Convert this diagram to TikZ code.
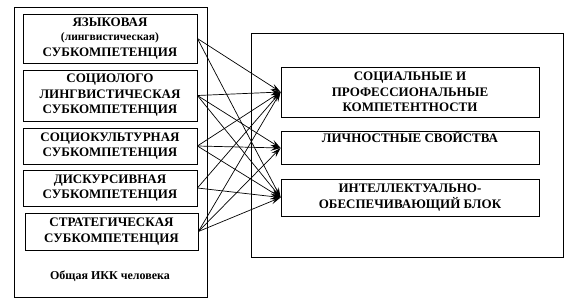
\documentclass[tikz,border=0pt]{standalone}
\usepackage{fontspec}
\setmainfont{Liberation Serif}
\usepackage{tikz}
\usetikzlibrary{arrows.meta}

\begin{document}
\begin{tikzpicture}[x=1pt, y=-1pt,
  every node/.style={font=\bfseries\fontsize{13}{15.5}\selectfont, align=center, inner sep=0pt},
  subbox/.style={draw, line width=0.8pt, minimum width=174pt},
  resbox/.style={draw, line width=0.8pt, minimum width=258pt},
  link/.style={line width=0.7pt, -{Stealth[length=10pt, width=6pt, inset=4pt]}}]
  \useasboundingbox (0,0) rectangle (575,302);

  % outer frames
  \draw[line width=0.8pt] (14,7) rectangle (207,297);
  \draw[line width=0.8pt] (251,33) rectangle (563,257);

  % left column: subcompetences
  \node[subbox, minimum height=49pt] (lang) at (110,38.5)
    {ЯЗЫКОВАЯ\\[-1pt]{\fontsize{11.5}{13}\selectfont (лингвистическая)}\\СУБКОМПЕТЕНЦИЯ};
  \node[subbox, minimum height=51pt] (soclin) at (110,95.5)
    {СОЦИОЛОГО\\ЛИНГВИСТИЧЕСКАЯ\\СУБКОМПЕТЕНЦИЯ};
  \node[subbox, minimum height=36pt] (soccult) at (110,146)
    {СОЦИОКУЛЬТУРНАЯ\\СУБКОМПЕТЕНЦИЯ};
  \node[subbox, minimum height=36pt] (disc) at (110,188)
    {ДИСКУРСИВНАЯ\\СУБКОМПЕТЕНЦИЯ};
  \node[subbox, minimum height=37pt, minimum width=173pt] (strat) at (111.5,231.5)
    {СТРАТЕГИЧЕСКАЯ\\СУБКОМПЕТЕНЦИЯ};
  \node[font=\bfseries\fontsize{12}{14}\selectfont] (ikk) at (110,276) {Общая ИКК человека};

  % right column
  \node[resbox, minimum height=50pt] (prof) at (410,92)
    {СОЦИАЛЬНЫЕ И\\ПРОФЕССИОНАЛЬНЫЕ\\КОМПЕТЕНТНОСТИ};
  \node[resbox, minimum height=32pt] (pers) at (410,148)
    {ЛИЧНОСТНЫЕ СВОЙСТВА\\[2pt]\strut};
  \node[resbox, minimum height=37pt] (intel) at (410,197.5)
    {ИНТЕЛЛЕКТУАЛЬНО-\\ОБЕСПЕЧИВАЮЩИЙ БЛОК};

  % connections
  \foreach \s/\t in {lang/prof, lang/intel,
                     soclin/prof, soclin/pers, soclin/intel,
                     soccult/prof, soccult/pers, soccult/intel,
                     disc/prof, disc/intel,
                     strat/prof, strat/pers, strat/intel}
    \draw[link] (\s.east) -- (\t.west);
\end{tikzpicture}
\end{document}
